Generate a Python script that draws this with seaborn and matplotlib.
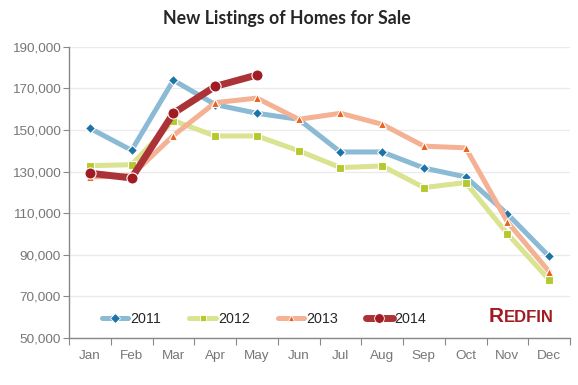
import matplotlib
matplotlib.use("Agg")
import matplotlib.pyplot as plt
from matplotlib.lines import Line2D
from matplotlib.ticker import FuncFormatter, FixedLocator
import seaborn as sns
import pandas as pd

months = ["Jan", "Feb", "Mar", "Apr", "May", "Jun", "Jul", "Aug", "Sep", "Oct", "Nov", "Dec"]
y2011 = [150800, 140200, 173900, 162200, 158000, 155100, 139400, 139400, 131700, 127400, 109600, 89200]
y2012 = [132800, 133300, 154500, 147100, 147100, 140000, 131900, 132700, 122300, 124700, 100100, 78000]
y2013 = [127300, 128200, 147300, 163100, 165300, 155100, 158000, 152700, 142200, 141400, 105800, 81900]
y2014 = [129200, 126900, 158000, 170900, 176400]

years = ["2011", "2012", "2013", "2014"]
line_colors = ["#8bbad5", "#d9e390", "#f4b193", "#ab3338"]
marker_colors = ["#1b74a8", "#b6c92c", "#e8611d", "#a11c22"]
markers = ["D", "s", "^", "o"]

rows = []
for yr, vals in zip(years, [y2011, y2012, y2013, y2014]):
    for i, v in enumerate(vals):
        rows.append({"year": yr, "month": i, "listings": v})
df = pd.DataFrame(rows)

sns.set_style("white")
plt.rcParams["font.family"] = ["Liberation Sans", "DejaVu Sans"]

fig = plt.figure(figsize=(5.78, 3.85), dpi=100)
ax = fig.add_axes([0.1194, 0.1221, 0.8668, 0.7566])

for k, yr in enumerate(years):
    sub = df[df.year == yr]
    lw = 5.0 if yr == "2014" else 3.6
    sns.lineplot(data=sub, x="month", y="listings", color=line_colors[k], lw=lw,
                 ax=ax, zorder=2 + k, legend=False)
    ms = 8 if yr == "2014" else (6 if yr == "2013" else 5.5)
    ax.plot(sub.month, sub.listings, ls="none", marker=markers[k], ms=ms,
            mfc=marker_colors[k], mec="white", mew=0.8, zorder=2.5 + k)

ax.set_xlim(-0.5, 11.5)
ax.set_ylim(50000, 190000)
ax.set_yticks(range(50000, 190001, 20000))
ax.yaxis.set_major_formatter(FuncFormatter(lambda v, p: f"{int(v):,}"))
ax.xaxis.set_major_locator(FixedLocator([i - 0.5 for i in range(13)]))
ax.xaxis.set_minor_locator(FixedLocator(range(12)))
ax.set_xticklabels([])
ax.set_xticklabels(months, minor=True)
ax.tick_params(axis="x", which="major", length=5, color="#888888", direction="out", bottom=True)
ax.tick_params(axis="x", which="minor", length=0, pad=9, labelsize=9.7, labelcolor="#777777")
ax.tick_params(axis="y", length=4, color="#888888", direction="out", left=True,
               labelsize=9.7, labelcolor="#777777", pad=2)
ax.set_xlabel("")
ax.set_ylabel("")
ax.grid(axis="y", color="#ebebeb", lw=1)
ax.set_axisbelow(True)
for s in ["top", "right"]:
    ax.spines[s].set_visible(False)
for s in ["left", "bottom"]:
    ax.spines[s].set_color("#888888")
    ax.spines[s].set_linewidth(1)

handles = []
for k, yr in enumerate(years):
    lw = 5.0 if yr == "2014" else 3.6
    ms = 7 if yr == "2014" else 5
    handles.append(Line2D([], [], color=line_colors[k], lw=lw, marker=markers[k], ms=ms,
                          mfc=marker_colors[k], mec="white", mew=0.6))
ax.legend(handles, years, ncol=4, frameon=False, loc="center left",
          bbox_to_anchor=(0.04, 0.064), fontsize=10.3, handlelength=1.85,
          handletextpad=0.15, columnspacing=1.95)

fig.text(0.497, 0.951, "New Listings of Homes for Sale", ha="center", va="center",
         fontsize=12.8, fontweight="bold", family=["Lato", "DejaVu Sans"])
fig.text(0.845, 0.163, "R", ha="left", va="baseline", fontsize=15,
         fontweight="bold", color="#a11c22")
fig.text(0.872, 0.163, "EDFIN", ha="left", va="baseline", fontsize=12,
         fontweight="bold", color="#a11c22")

fig.savefig("out.png", dpi=100)
